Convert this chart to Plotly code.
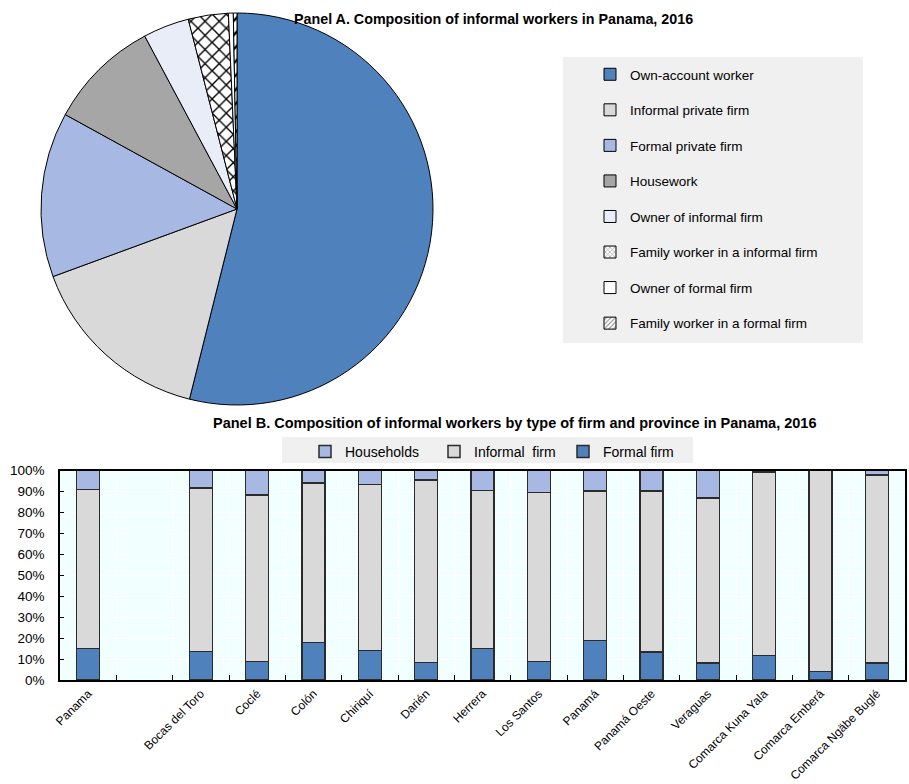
import plotly.graph_objects as go

W, H = 909, 784

# ---------------- Data ----------------
pie_labels = [
    "Own-account worker",
    "Informal private firm",
    "Formal private firm",
    "Housework",
    "Owner of informal firm",
    "Family worker in a informal firm",
    "Owner of formal firm",
    "Family worker in a formal firm",
]
pie_values = [53.9, 15.5, 13.6, 9.2, 3.8, 3.3, 0.4, 0.3]

provinces = ["Panama", " ", "Bocas del Toro", "Coclé", "Colón", "Chiriquí", "Darién",
             "Herrera", "Los Santos", "Panamá", "Panamá Oeste", "Veraguas",
             "Comarca Kuna Yala", "Comarca Emberá", "Comarca Ngäbe Buglé"]
formal_firm = [15.0, None, 13.7, 8.9, 17.8, 14.0, 8.4, 15.1, 8.9, 18.9, 13.4, 8.1, 11.6, 4.0, 8.1]
informal_firm = [75.9, None, 77.9, 79.5, 76.3, 79.3, 87.1, 75.3, 80.6, 71.2, 76.9, 78.7, 87.6, 96.0, 89.8]
households = [9.1, None, 8.4, 11.6, 5.9, 6.7, 4.5, 9.6, 10.5, 9.9, 9.7, 13.2, 0.8, 0.0, 2.1]

# ---------------- Styles ----------------
pie_colors = ["#4F81BD", "#D9D9D9", "#A7B9E3", "#A6A6A6", "#E9EDF7", "#FFFFFF", "#FFFFFF", "#FFFFFF"]
pie_patterns = ["", "", "", "", "", "x", "", "/"]
FONT = "Liberation Sans, Arial, sans-serif"


def px_x(p):
    return p / W


def px_y(p):
    return 1 - p / H


fig = go.Figure()

# Pie (Panel A)
fig.add_trace(go.Pie(
    labels=pie_labels, values=pie_values, sort=False, direction="clockwise", rotation=0,
    textinfo="none", hoverinfo="label+percent", showlegend=False,
    marker=dict(colors=pie_colors, line=dict(color="#000000", width=1),
                pattern=dict(shape=pie_patterns, fgcolor="#000000", bgcolor="#FFFFFF",
                             size=10, solidity=0.25)),
    domain=dict(x=[px_x(41), px_x(433)], y=[px_y(405), px_y(13)]),
))

# Legend entries for the pie (legend 1)
for i, lab in enumerate(pie_labels):
    fig.add_trace(go.Bar(
        x=[None], y=[None], name=lab, legend="legend", legendgroup="g%d" % i,
        marker=dict(color=pie_colors[i], line=dict(color="#000000", width=1),
                    pattern=dict(shape=pie_patterns[i], fgcolor="#000000", size=4, solidity=0.3)),
        showlegend=True, hoverinfo="skip",
    ))

# Stacked bars (Panel B)
bar_series = [("Formal firm", formal_firm, "#4F81BD"),
              ("Informal  firm", informal_firm, "#D9D9D9"),
              ("Households", households, "#A7B9E3")]
for name, vals, col in bar_series:
    fig.add_trace(go.Bar(
        x=provinces, y=[None if v is None else v / 100 for v in vals], name=name,
        legend="legend2", width=0.41,
        marker=dict(color=col, line=dict(color="#2B2B2B", width=1.5)),
    ))

fig.update_layout(
    width=W, height=H, margin=dict(l=0, r=0, t=0, b=0, autoexpand=False),
    paper_bgcolor="white", plot_bgcolor="#F2FFFF",
    font=dict(family=FONT, size=13, color="#000000"),
    barmode="stack", bargap=0.59,
    xaxis=dict(domain=[px_x(60), px_x(905)], type="category", tickangle=-45, automargin=False,
               tickson="boundaries", ticks="inside", ticklen=5, tickcolor="#000000",
               showgrid=True, gridcolor="#FFFFFF", gridwidth=1,
               showline=True, linecolor="#000000", linewidth=2, mirror=True,
               tickfont=dict(size=12), fixedrange=True),
    yaxis=dict(domain=[px_y(680), px_y(470.5)], range=[0, 1], dtick=0.1, tickformat=".0%",
               automargin=False, ticks="inside", ticklen=4, tickcolor="#000000",
               showgrid=True, gridcolor="#FFFFFF", gridwidth=1,
               showline=True, linecolor="#000000", linewidth=1.5, mirror=True,
               ticklabelstandoff=11, zeroline=False, tickfont=dict(size=13.5), fixedrange=True),
    legend=dict(x=px_x(590), y=px_y(59), xanchor="left", yanchor="top",
                bgcolor="rgba(0,0,0,0)", tracegroupgap=15, traceorder="grouped",
                font=dict(size=13.5)),
    legend2=dict(orientation="h", x=px_x(305), y=px_y(436), xanchor="left", yanchor="top",
                 bgcolor="rgba(0,0,0,0)", traceorder="reversed", entrywidth=84,
                 font=dict(size=14)),
    shapes=[
        dict(type="rect", xref="paper", yref="paper", x0=px_x(563), x1=px_x(863),
             y0=px_y(343), y1=px_y(57), fillcolor="#F0F0F0", line=dict(width=0), layer="below"),
        dict(type="rect", xref="paper", yref="paper", x0=px_x(282), x1=px_x(693),
             y0=px_y(463), y1=px_y(437), fillcolor="#F0F0F0", line=dict(width=0), layer="below"),
    ],
    annotations=[
        dict(text="<b>Panel A. Composition of informal workers in Panama, 2016</b>",
             xref="paper", yref="paper", x=px_x(493), y=px_y(19), showarrow=False,
             font=dict(size=14.3), xanchor="center", yanchor="middle"),
        dict(text="<b>Panel B. Composition of informal workers by type of firm and province in Panama, 2016</b>",
             xref="paper", yref="paper", x=px_x(515), y=px_y(423), showarrow=False,
             font=dict(size=14.5), xanchor="center", yanchor="middle"),
    ],
)

fig.write_html("out.html", post_script="document.body.style.margin='0';")
